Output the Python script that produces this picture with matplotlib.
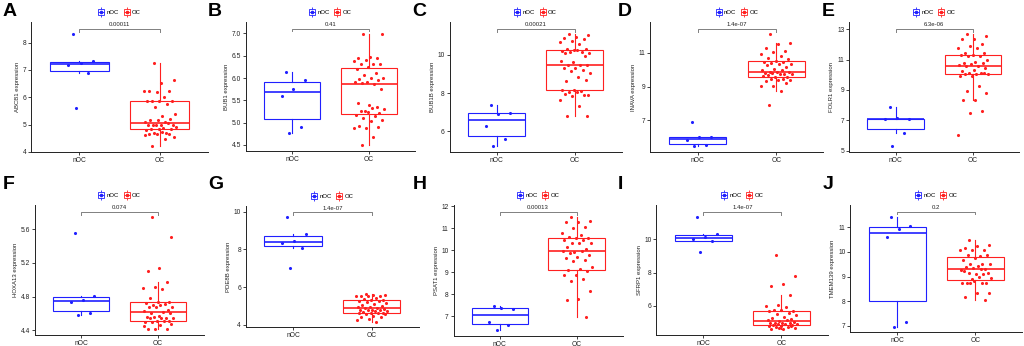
"""
Boxplots of gene expression, nOC vs OC, ten genes in a 2 x 5 grid.
"""

import matplotlib.pyplot as plt
from matplotlib.lines import Line2D
from matplotlib.legend_handler import HandlerTuple
import numpy as np

plt.rcParams["font.family"] = ["Liberation Sans", "DejaVu Sans"]


# --------------------------------------------------------
# Data
# --------------------------------------------------------

letters = ["A", "B", "C", "D", "E", "F", "G", "H", "I", "J"]

genes = ["ABCB1", "BUB1", "BUB1B", "INAVA", "FOLR1",
         "HOXA13", "PDE8B", "PSAT1", "SFRP1", "TMEM139"]

p_labels = ["0.00011", "0.41", "0.00021", "1.4e-07", "6.3e-06",
            "0.074", "1.4e-07", "0.00013", "1.4e-07", "0.2"]

groups = ["nOC", "OC"]

y_ticks = [
    [4, 5, 6, 7, 8],
    [4.5, 5.0, 5.5, 6.0, 6.5, 7.0],
    [6, 8, 10],
    [7, 9, 11],
    [5, 7, 9, 11, 13],
    [4.4, 4.8, 5.2, 5.6],
    [4, 6, 8, 10],
    [7, 8, 9, 10, 11, 12],
    [6, 8, 10],
    [7, 8, 9, 10, 11],
]

abcb1_noc = [8.30, 7.32, 7.26, 7.18, 6.87, 5.60]
abcb1_oc = [7.27, 6.64, 6.52, 6.24, 6.22, 6.21, 6.24, 6.02, 5.88, 5.88, 5.88,
            5.88, 5.76, 5.66, 5.39, 5.30, 5.18, 5.21, 5.18, 5.11, 5.08, 5.00,
            5.00, 5.00, 4.97, 5.05, 4.97, 4.93, 4.88, 4.85, 4.85, 4.85, 4.81,
            4.69, 4.69, 4.55, 4.72, 4.67, 4.67, 4.67, 4.61, 4.48, 4.21]

bub1_noc = [6.13, 5.96, 5.76, 5.60, 4.90, 4.76]
bub1_oc = [6.98, 6.98, 6.47, 6.45, 6.45, 6.41, 6.39, 6.32, 6.32, 6.32, 6.24,
           6.21, 6.12, 6.07, 6.01, 5.99, 5.97, 5.95, 5.92, 5.90, 5.86, 5.88,
           5.75, 5.40, 5.43, 5.36, 5.27, 5.31, 5.32, 5.27, 5.21, 5.24, 5.18,
           5.16, 5.11, 5.05, 5.04, 4.93, 4.90, 4.87, 4.89, 4.68, 4.49]

bub1b_noc = [7.40, 6.97, 6.92, 6.28, 5.60, 5.22]
bub1b_oc = [11.06, 11.00, 10.94, 10.88, 10.80, 10.71, 10.66, 10.55, 10.31,
            10.29, 10.22, 10.17, 10.14, 10.14, 10.10, 10.26, 10.10, 9.91, 9.62,
            9.65, 9.48, 9.45, 9.45, 9.31, 9.31, 9.22, 9.15, 9.06, 8.84, 8.63,
            8.67, 8.16, 8.15, 8.10, 8.06, 7.92, 8.03, 7.97, 7.92, 7.84, 7.66,
            7.32, 6.81, 6.81]

inava_noc = [6.92, 6.04, 6.02, 5.83, 5.54, 5.46]
inava_oc = [12.09, 11.55, 11.51, 11.29, 11.12, 11.02, 10.90, 10.82, 10.67,
            10.63, 10.53, 10.47, 10.43, 10.38, 10.32, 10.36, 10.28, 10.14,
            10.02, 9.99, 9.99, 9.89, 9.89, 9.89, 9.83, 9.77, 9.81, 9.77, 9.73,
            9.69, 9.54, 9.54, 9.61, 9.46, 9.46, 9.40, 9.38, 9.34, 9.20, 9.05,
            9.01, 8.72, 7.88]

folr1_noc = [7.91, 7.10, 7.12, 7.09, 6.18, 5.28]
folr1_oc = [12.67, 12.56, 12.39, 12.39, 12.06, 11.91, 11.75, 11.80, 11.47,
            11.43, 11.30, 11.32, 11.21, 11.21, 10.99, 10.86, 10.81, 10.81,
            10.70, 10.68, 10.60, 10.60, 10.46, 10.33, 10.27, 10.11, 10.11,
            10.07, 10.03, 10.03, 10.11, 9.94, 9.90, 9.24, 8.96, 8.78, 8.37,
            8.34, 7.60, 7.47, 6.05]

hoxa13_noc = [5.55, 4.81, 4.76, 4.73, 4.60, 4.58]
hoxa13_oc = [5.74, 5.51, 5.14, 5.10, 4.97, 4.91, 4.90, 4.89, 4.78, 4.73, 4.73,
             4.72, 4.71, 4.70, 4.68, 4.70, 4.67, 4.64, 4.67, 4.63, 4.62, 4.61,
             4.61, 4.57, 4.56, 4.55, 4.56, 4.55, 4.54, 4.54, 4.51, 4.51, 4.50,
             4.51, 4.50, 4.47, 4.46, 4.41, 4.41, 4.41, 4.45]

pde8b_noc = [9.69, 8.82, 8.45, 8.35, 8.09, 7.01]
pde8b_oc = [5.65, 5.59, 5.59, 5.54, 5.54, 5.51, 5.51, 5.42, 5.38, 5.34, 5.31,
            5.26, 5.29, 5.21, 5.15, 5.10, 5.05, 5.02, 4.93, 4.93, 4.89, 4.89,
            4.84, 4.82, 4.82, 4.80, 4.77, 4.74, 4.74, 4.69, 4.66, 4.64, 4.61,
            4.61, 4.56, 4.56, 4.49, 4.44, 4.40, 4.33, 4.25, 4.17]

psat1_noc = [7.46, 7.35, 7.38, 6.73, 6.62, 6.36]
psat1_oc = [11.50, 11.34, 11.27, 11.30, 11.07, 11.00, 10.77, 10.72, 10.63,
            10.58, 10.55, 10.46, 10.46, 10.35, 10.32, 10.32, 10.17, 10.05, 9.94,
            9.96, 9.97, 9.90, 9.80, 9.68, 9.65, 9.58, 9.52, 9.24, 9.16, 9.09,
            9.04, 8.89, 8.86, 8.68, 8.60, 8.14, 7.79, 7.72, 6.97]

sfrp1_noc = [11.32, 10.32, 10.16, 10.02, 9.88, 9.26]
sfrp1_oc = [9.06, 7.80, 7.32, 7.18, 6.66, 6.06, 5.98, 5.92, 5.76, 5.70, 5.72,
            5.68, 5.56, 5.52, 5.42, 5.32, 5.28, 5.22, 5.06, 5.12, 5.12, 4.98,
            5.02, 4.98, 4.96, 4.96, 4.92, 4.88, 4.88, 4.82, 4.82, 4.76, 4.76,
            4.72, 4.72, 4.68, 4.62, 4.58, 4.76, 4.66]

tmem139_noc = [11.42, 11.05, 10.93, 10.59, 7.17, 6.97]
tmem139_oc = [10.50, 10.30, 10.26, 10.17, 10.10, 10.10, 10.08, 9.84, 9.86,
              9.88, 9.77, 9.67, 9.51, 9.53, 9.51, 9.44, 9.38, 9.31, 9.34, 9.27,
              9.31, 9.14, 9.15, 9.09, 9.22, 9.09, 8.91, 8.95, 8.98, 8.74, 8.74,
              8.81, 8.74, 8.74, 8.74, 8.32, 8.32, 8.19, 8.03]

noc_values = [abcb1_noc, bub1_noc, bub1b_noc, inava_noc, folr1_noc,
              hoxa13_noc, pde8b_noc, psat1_noc, sfrp1_noc, tmem139_noc]

oc_values = [abcb1_oc, bub1_oc, bub1b_oc, inava_oc, folr1_oc,
             hoxa13_oc, pde8b_oc, psat1_oc, sfrp1_oc, tmem139_oc]


# --------------------------------------------------------
# Layout (pixels, relative to each panel's left edge)
# --------------------------------------------------------

W, H = 1024, 346
PANEL_W = W / 5

BLUE = "#2020FF"
RED = "#FF2020"
GREY = "#808080"

axes_left = [31, 41, 40, 36, 30, 35, 41, 44, 42, 31]
axes_right = [208, 210, 212, 209, 200, 204, 214, 213, 214, 203]
axes_top = [22, 22, 22, 22, 22, 205, 206, 205, 205, 205]
axes_bottom = [152, 151, 152, 152, 152, 335, 327, 336, 335, 332]
row_top = [0, 173]


# --------------------------------------------------------
# One panel
# --------------------------------------------------------

def jitter(n, width=0.2):

    k = np.arange(n)
    return ((k * 0.618034 + 0.31) % 1.0 - 0.5) * 2 * width


def draw_panel(fig, i):

    row, col = divmod(i, 5)

    x0 = col * PANEL_W + axes_left[i]
    x1 = col * PANEL_W + axes_right[i]
    top = axes_top[i]
    bottom = axes_bottom[i]

    ax = fig.add_axes([x0 / W, 1 - bottom / H, (x1 - x0) / W, (bottom - top) / H])

    data = [noc_values[i], oc_values[i]]
    colors = [BLUE, RED]

    for pos, (vals, color) in enumerate(zip(data, colors), start=1):

        ax.boxplot(
            [vals],
            positions=[pos],
            widths=0.73,
            showfliers=False,
            showcaps=False,
            patch_artist=True,
            boxprops=dict(facecolor="white", edgecolor=color, linewidth=0.8),
            medianprops=dict(color=color, linewidth=1.2),
            whiskerprops=dict(color=color, linewidth=0.8),
            zorder=2,
        )

        ax.scatter(
            pos + jitter(len(vals)),
            vals,
            s=5,
            color=color,
            linewidths=0,
            zorder=4,
        )

    # significance bracket
    all_vals = noc_values[i] + oc_values[i]
    ymin, ymax = min(all_vals), max(all_vals)
    span = ymax - ymin

    yb = ymax + 0.05 * span
    tick = 0.025 * span

    ax.plot([1, 1, 2, 2], [yb - tick, yb, yb, yb - tick],
            color=GREY, linewidth=0.7, zorder=3)

    ax.text(1.5, yb + 0.012 * span, p_labels[i],
            ha="center", va="bottom", fontsize=4.3, color="#222222")

    ax.set_ylim(ymin - 0.05 * span, ymax + 0.11 * span)
    ax.set_xlim(0.4, 2.6)

    # axes styling
    ticks = y_ticks[i]
    decimals = 1 if any(t != int(t) for t in ticks) else 0
    ax.set_yticks(ticks)
    ax.set_yticklabels([f"{t:.{decimals}f}" for t in ticks])

    ax.set_xticks([1, 2])
    ax.set_xticklabels(groups)

    for side in ("top", "right"):
        ax.spines[side].set_visible(False)

    for side in ("left", "bottom"):
        ax.spines[side].set_linewidth(0.7)
        ax.spines[side].set_color("#222222")

    ax.tick_params(axis="both", length=2, width=0.6, pad=1.5,
                   labelsize=4.8, colors="#222222")

    ax.set_ylabel(f"{genes[i]} expression", fontsize=4.3, labelpad=2,
                  color="#222222")

    # legend
    handles = []
    for color in colors:
        handles.append((
            Line2D([], [], marker="|", markersize=7, color=color,
                   markeredgewidth=0.6, linestyle="none"),
            Line2D([], [], marker="s", markersize=4.5, markerfacecolor="white",
                   markeredgecolor=color, markeredgewidth=0.6, linestyle="none"),
            Line2D([], [], marker="_", markersize=4.5, color=color,
                   markeredgewidth=0.6, linestyle="none"),
            Line2D([], [], marker="o", markersize=1.6, color=color,
                   linestyle="none"),
        ))

    ax.legend(
        handles,
        groups,
        handler_map={tuple: HandlerTuple(ndivide=1)},
        loc="lower center",
        bbox_to_anchor=(0.5, 1.02),
        ncol=2,
        frameon=False,
        fontsize=4.3,
        handlelength=1.0,
        handletextpad=0.4,
        columnspacing=0.8,
        borderaxespad=0.3,
    )

    # panel letter
    fig.text(
        (col * PANEL_W + 3) / W,
        1 - (row_top[row] + 3) / H,
        letters[i],
        fontsize=14,
        fontweight="bold",
        ha="left",
        va="top",
    )


# --------------------------------------------------------
# Main
# --------------------------------------------------------

fig = plt.figure(figsize=(W / 100, H / 100), dpi=100)

for i in range(10):
    draw_panel(fig, i)

fig.savefig("out.png", dpi=100)
